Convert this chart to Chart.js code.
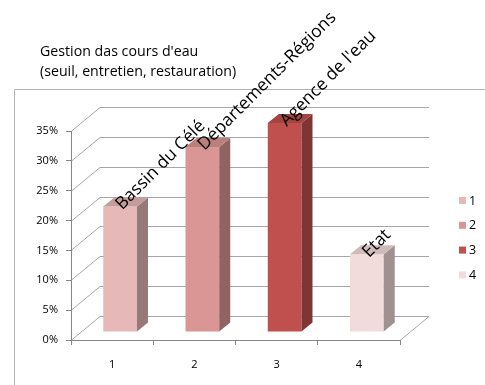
<!DOCTYPE html>
<html>
<head>
<meta charset="utf-8">
<script src="https://cdn.jsdelivr.net/npm/chart.js@4.4.0/dist/chart.umd.min.js"></script>
<style>
  html, body { margin: 0; padding: 0; background: #fff; }
  #wrap { width: 485px; height: 385px; }
</style>
</head>
<body>
<div id="wrap"><canvas id="chart" width="485" height="385"></canvas></div>
<script>
// data
const categories = ["1", "2", "3", "4"];
const shares = [21, 31, 35, 13];
const barNames = ["Bassin du Célé", "Départements-Régions", "Agence de l'eau", "Etat"];
const yTicks = [0, 5, 10, 15, 20, 25, 30, 35];
const titleLines = ["Gestion das cours d'eau", "(seuil, entretien, restauration)"];

const barColors = ["#E6B8B7", "#DA9694", "#C0504D", "#F2DCDB"];
const FONT = "'Open Sans', sans-serif";
const depth = { x: 29, y: -24 };     // back wall offset
const barShift = { x: 8, y: -8 };    // bars sit a bit behind the front plane
const barDepth = { x: 11, y: -9 };   // side / top face size
const gridColor = "#a6a6a6";
const axisColor = "#868686";

function shade(hex, f) {
  const n = parseInt(hex.slice(1), 16);
  const r = Math.round(((n >> 16) & 255) * f);
  const g = Math.round(((n >> 8) & 255) * f);
  const b = Math.round((n & 255) * f);
  return `rgb(${r},${g},${b})`;
}

const scene3d = {
  id: "scene3d",
  beforeDraw(chart) {
    const { ctx, chartArea: a, scales } = chart;
    const y = scales.y;
    ctx.save();
    // outer plot border
    ctx.strokeStyle = "#b3b3b3";
    ctx.lineWidth = 1;
    ctx.beginPath();
    ctx.moveTo(14.5, 400);
    ctx.lineTo(14.5, 89.5);
    ctx.lineTo(500, 89.5);
    ctx.stroke();

    // title
    ctx.fillStyle = "#000";
    ctx.font = "14.2px " + FONT;
    ctx.textBaseline = "middle";
    ctx.textAlign = "left";
    titleLines.forEach((t, i) => ctx.fillText(t, 40, 52 + i * 19.5));

    // back wall grid + left wall diagonals
    ctx.strokeStyle = gridColor;
    ctx.beginPath();
    yTicks.forEach(v => {
      const py = Math.round(y.getPixelForValue(v)) + 0.5;
      ctx.moveTo(a.left, py);
      ctx.lineTo(a.left + depth.x, py + depth.y);
      ctx.lineTo(a.right + depth.x, py + depth.y);
    });
    // floor right edge
    ctx.moveTo(a.right, Math.round(a.bottom) + 0.5);
    ctx.lineTo(a.right + depth.x, Math.round(a.bottom) + 0.5 + depth.y);
    ctx.stroke();

    // legend
    ctx.font = "12.5px " + FONT;
    categories.forEach((c, i) => {
      const ly = 201 + i * 24.8;
      ctx.fillStyle = barColors[i];
      ctx.fillRect(459, ly - 4, 7, 7);
      ctx.fillStyle = "#000";
      ctx.fillText(c, 469, ly);
    });
    ctx.restore();
  },
  beforeDatasetsDraw(chart) {
    chart.ctx.save();
    chart.ctx.translate(barShift.x, barShift.y);
  },
  afterDatasetsDraw(chart) {
    const ctx = chart.ctx;
    const meta = chart.getDatasetMeta(0);
    meta.data.forEach((el, i) => {
      const { x, y, base, width } = el.getProps(["x", "y", "base", "width"], true);
      const l = x - width / 2, r = x + width / 2;
      // side face
      ctx.fillStyle = shade(barColors[i], 0.66);
      ctx.beginPath();
      ctx.moveTo(r, base);
      ctx.lineTo(r, y);
      ctx.lineTo(r + barDepth.x, y + barDepth.y);
      ctx.lineTo(r + barDepth.x, base + barDepth.y);
      ctx.closePath();
      ctx.fill();
      // top face
      ctx.fillStyle = shade(barColors[i], 0.85);
      ctx.beginPath();
      ctx.moveTo(l, y);
      ctx.lineTo(r, y);
      ctx.lineTo(r + barDepth.x, y + barDepth.y);
      ctx.lineTo(l + barDepth.x, y + barDepth.y);
      ctx.closePath();
      ctx.fill();
    });
    ctx.restore();

    // rotated names above the bars
    ctx.save();
    ctx.fillStyle = "#000";
    ctx.font = "17.5px " + FONT;
    ctx.textAlign = "left";
    ctx.textBaseline = "alphabetic";
    meta.data.forEach((el, i) => {
      const { x, y } = el.getProps(["x", "y"], true);
      ctx.save();
      ctx.translate(x + barShift.x + 2, y + barShift.y + 4);
      ctx.rotate(-Math.PI / 4);
      ctx.fillText(barNames[i], 0, 0);
      ctx.restore();
    });
    ctx.restore();
  }
};

new Chart(document.getElementById("chart"), {
  type: "bar",
  data: {
    labels: categories,
    datasets: [{
      data: shares,
      backgroundColor: barColors,
      barPercentage: 0.41,
      categoryPercentage: 1,
      clip: false
    }]
  },
  options: {
    responsive: false,
    animation: false,
    layout: { padding: { top: 131, right: 85, left: 0, bottom: 0 } },
    plugins: {
      legend: { display: false },
      tooltip: { enabled: false },
      title: { display: false }
    },
    scales: {
      x: {
        grid: { drawOnChartArea: false, tickLength: 5, color: axisColor },
        border: { color: axisColor },
        ticks: { color: "#000", font: { family: FONT, size: 11 }, padding: 13 },
        afterFit: s => { s.height = 45; }
      },
      y: {
        min: 0,
        max: 35,
        afterBuildTicks: s => { s.ticks = yTicks.map(v => ({ value: v })); },
        grid: { drawOnChartArea: false, tickLength: 5, color: axisColor },
        border: { color: axisColor },
        ticks: { color: "#000", font: { family: FONT, size: 11 }, padding: 8, callback: v => v + "%" },
        afterFit: s => { s.width = 71; }
      }
    }
  },
  plugins: [scene3d]
});
</script>
</body>
</html>
